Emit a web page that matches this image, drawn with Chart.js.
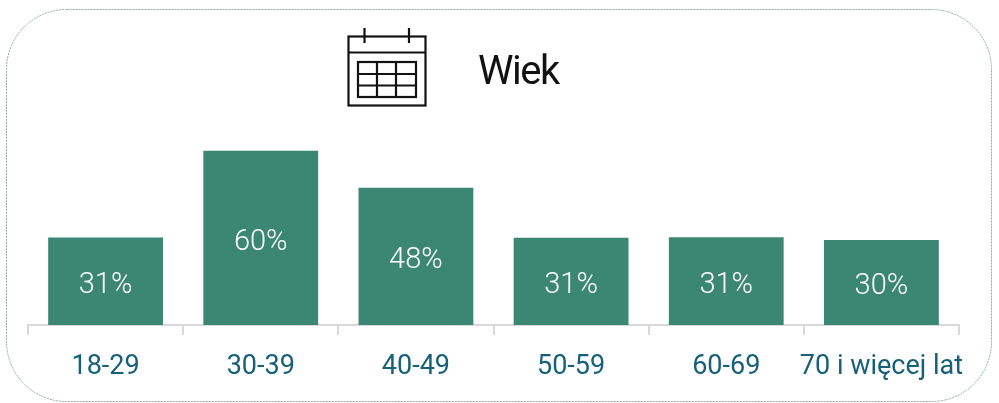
<!DOCTYPE html>
<html><head><meta charset="utf-8">
<style>html,body{margin:0;padding:0;background:#fff}#w{position:relative;width:999px;height:403px}canvas{display:block}</style>
<script src="https://cdn.jsdelivr.net/npm/chart.js@4"></script></head>
<body><div id="w"><canvas id="c" width="999" height="403"></canvas></div>
<script>
const categories = ['18-29','30-39','40-49','50-59','60-69','70 i więcej lat'];
const values = [31,60,47.6,30.9,31.1,30.2];
const titleText = 'Wiek';
const FONT = 'Roboto, sans-serif';

const decor = {
  id:'decor',
  beforeDraw(ch){
    const g=ch.ctx; g.save();
    g.strokeStyle='#8fa8a0'; g.lineWidth=1; g.setLineDash([2,1]);
    g.beginPath(); g.roundRect(6.5,9.5,985,392,60); g.stroke();
    g.setLineDash([]);
    // calendar icon
    g.strokeStyle='#111'; g.lineWidth=2.2;
    g.strokeRect(348.5,36.5,77,69);
    g.beginPath();
    g.moveTo(348,52.5);g.lineTo(425,52.5);
    g.moveTo(364.5,28);g.lineTo(364.5,43);
    g.moveTo(409,28);g.lineTo(409,43);
    g.stroke();
    g.strokeRect(358,62,58,35);
    g.beginPath();
    g.moveTo(358,74);g.lineTo(416,74);
    g.moveTo(358,85.5);g.lineTo(416,85.5);
    g.moveTo(377,62);g.lineTo(377,97);
    g.moveTo(396,62);g.lineTo(396,97);
    g.stroke();
    g.fillStyle='#111'; g.font='400 40px '+FONT; g.letterSpacing='-1.5px'; g.textAlign='left'; g.textBaseline='alphabetic';
    g.fillText(titleText,478,84);
    g.restore();
  },
  afterDatasetsDraw(ch){
    const g=ch.ctx; g.save();
    g.fillStyle='#fff'; g.font='300 29px '+FONT; g.textAlign='center'; g.textBaseline='middle';
    ch.getDatasetMeta(0).data.forEach((b,i)=>{
      g.fillText(Math.round(values[i])+'%',b.x,(b.y+b.base)/2+2);
    });
    g.restore();
  }
};

new Chart(document.getElementById('c'),{
  type:'bar',
  data:{labels:categories,datasets:[{data:values,backgroundColor:'#3c8774',borderWidth:0,barPercentage:1,categoryPercentage:0.74}]},
  plugins:[decor],
  options:{
    responsive:false,animation:false,
    layout:{padding:{left:28,right:40,top:0,bottom:0}},
    plugins:{legend:{display:false},tooltip:{enabled:false}},
    scales:{
      y:{display:false,min:1.8,max:110.3},
      x:{
        offset:true,
        afterFit(s){s.height=78;},
        border:{color:'#d9d9d9',width:2},
        grid:{color:'#d9d9d9',lineWidth:2,drawOnChartArea:false,tickLength:10,offset:true},
        ticks:{color:'#15607a',font:{family:FONT,size:27,weight:'400'},padding:16,maxRotation:0,autoSkip:false}
      }
    }
  }
});
</script></body></html>
